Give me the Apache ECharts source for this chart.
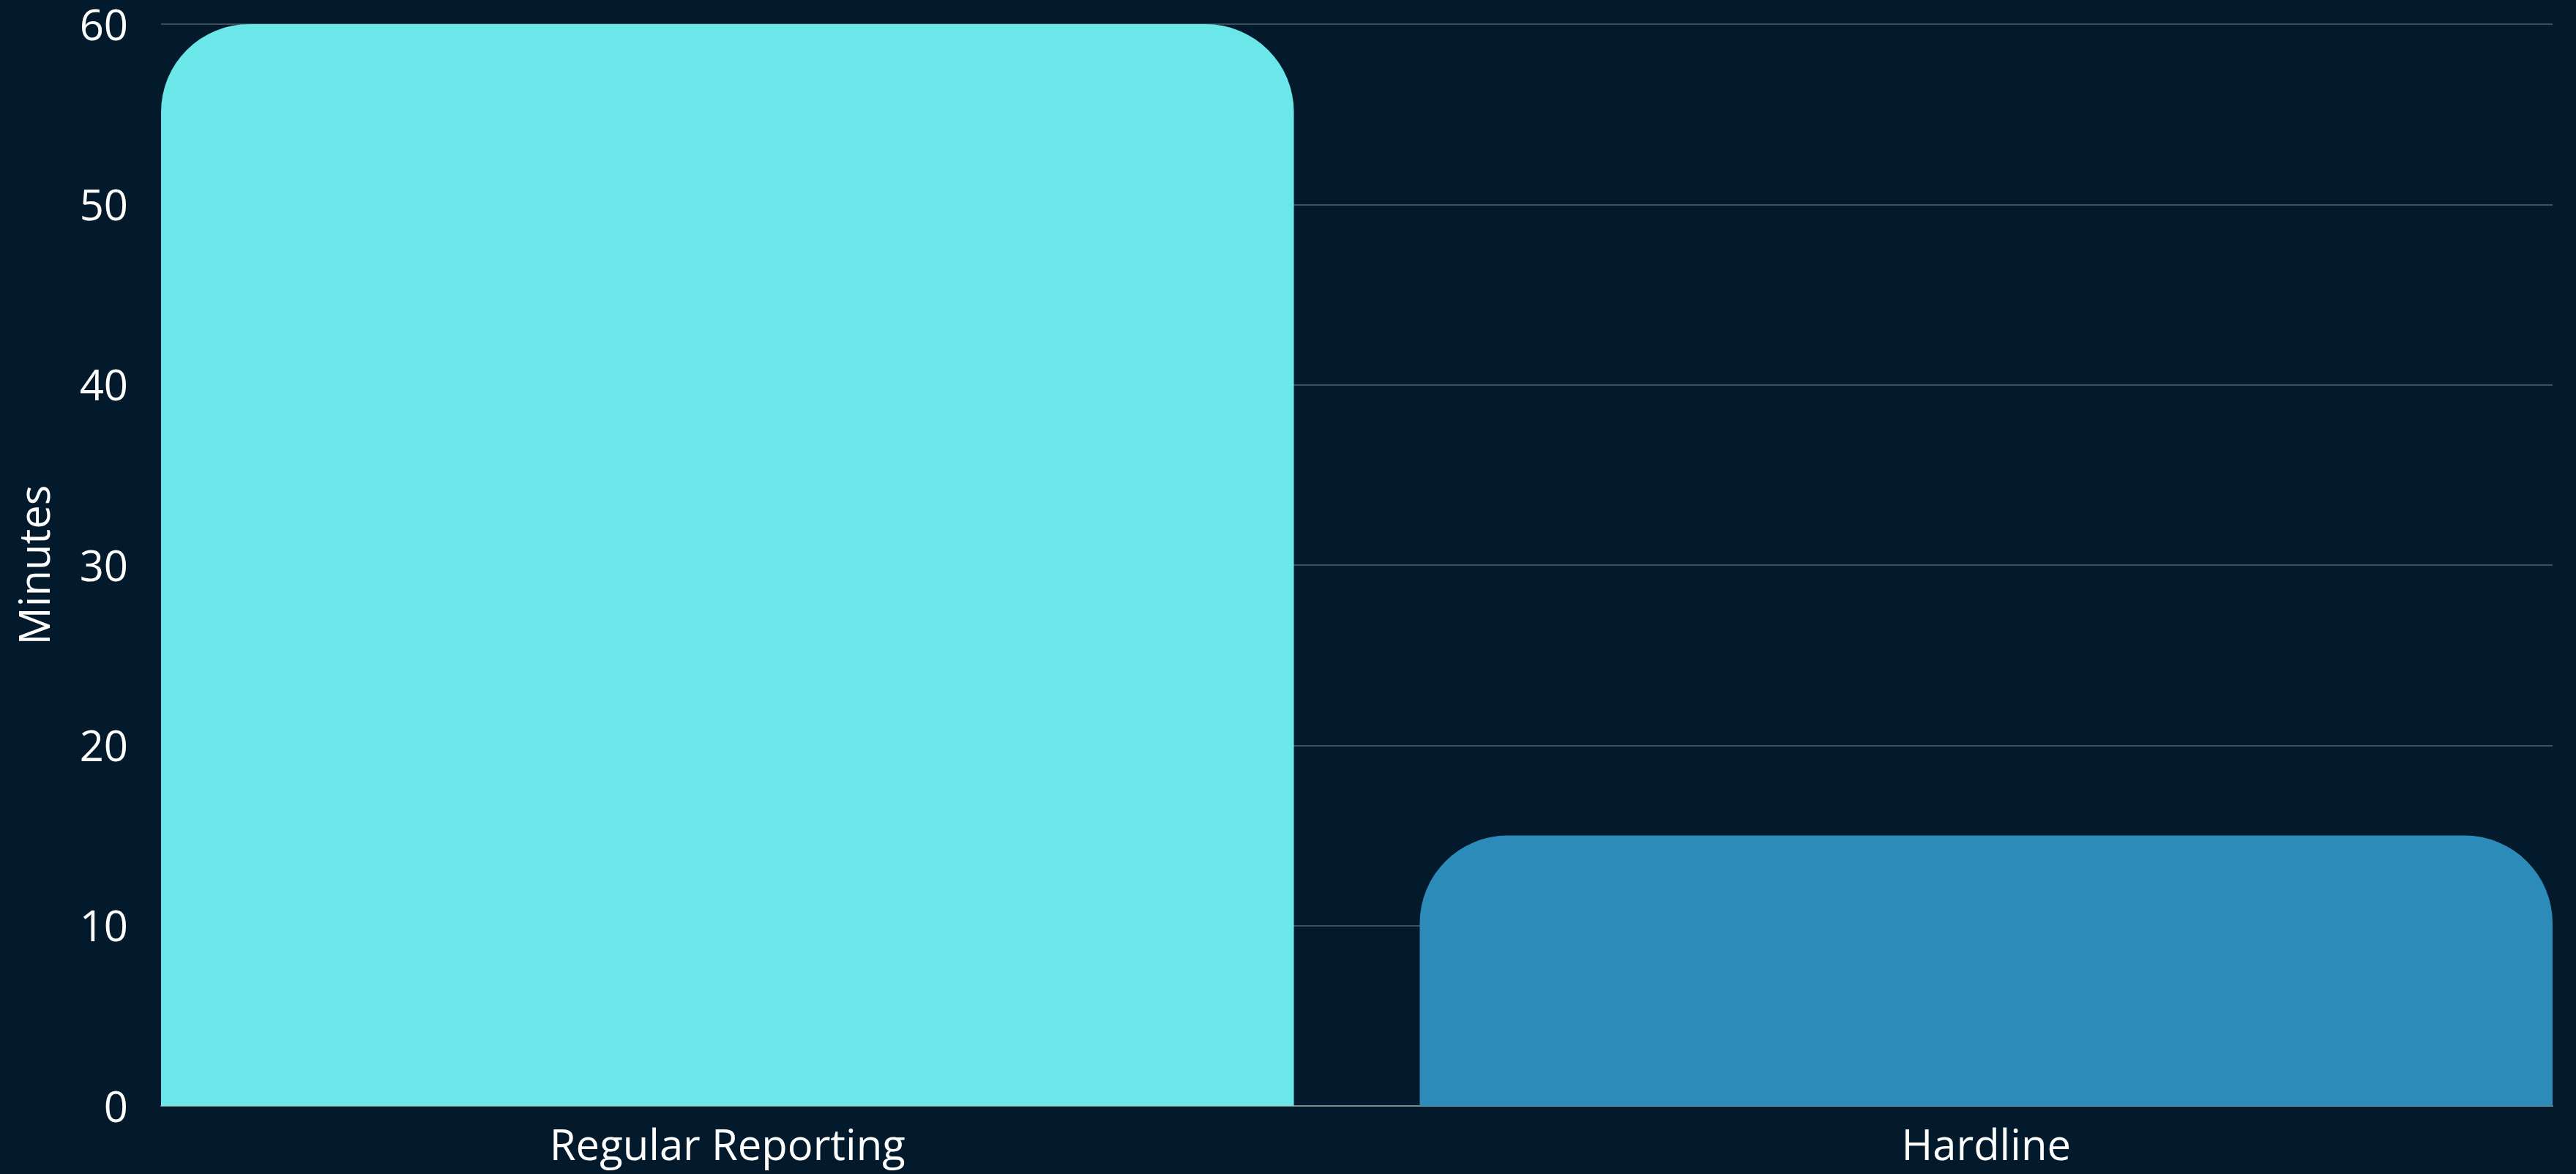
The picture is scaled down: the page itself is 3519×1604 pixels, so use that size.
<!DOCTYPE html>
<html>
<head>
<meta charset="utf-8">
<script src="https://cdn.jsdelivr.net/npm/echarts@6/dist/echarts.min.js"></script>
<style>
html,body{margin:0;padding:0;background:#021a2b;}
#chart{width:3519px;height:1604px;}
</style>
</head>
<body>
<div id="chart"></div>
<script>
const categories = ['Regular Reporting', 'Hardline'];
const minutes = [60, 15];
const barColors = ['#6be6e9', '#2d8bba'];
const yTicks = [0, 10, 20, 30, 40, 50, 60];

const chart = echarts.init(document.getElementById('chart'), null, {renderer: 'canvas'});
const FONT = '"Open Sans", "Noto Sans", sans-serif';

chart.setOption({
  backgroundColor: '#021a2b',
  animation: false,
  grid: {left: 220, right: 32, top: 33, bottom: 93, containLabel: false},
  xAxis: {
    type: 'value',
    min: -0.45,
    max: 1.45,
    splitLine: {show: false},
    axisTick: {show: false},
    axisLine: {show: true, lineStyle: {color: '#7f8a93', width: 2}},
    axisLabel: {
      customValues: categories.map((c, i) => i),
      formatter: v => categories[Math.round(v)] || '',
      color: '#ffffff',
      fontSize: 58,
      fontFamily: FONT,
      margin: 28
    }
  },
  yAxis: {
    type: 'value',
    min: yTicks[0],
    max: yTicks[yTicks.length - 1],
    interval: 10,
    name: 'Minutes',
    nameLocation: 'middle',
    nameRotate: 90,
    nameGap: 140,
    nameTextStyle: {color: '#ffffff', fontSize: 58, fontFamily: FONT},
    axisLine: {show: false},
    axisTick: {show: false},
    axisLabel: {
      color: '#ffffff', fontSize: 58, fontFamily: FONT, margin: 45,
      formatter: v => '{t|' + v + '}',
      rich: {t: {color: '#ffffff', fontSize: 58, fontFamily: FONT, padding: [10, 0, 0, 0]}}
    },
    splitLine: {lineStyle: {color: '#3d5060', width: 2}}
  },
  series: [{
    type: 'bar',
    barWidth: '90%',
    data: minutes.map((v, i) => ({
      value: [i, v],
      itemStyle: {color: barColors[i], borderRadius: [120, 120, 0, 0]}
    }))
  }]
});
</script>
</body>
</html>
